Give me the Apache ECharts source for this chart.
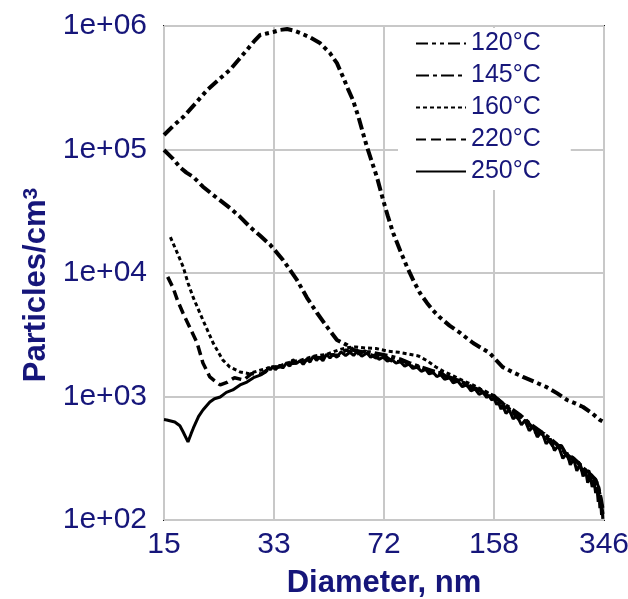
<!DOCTYPE html>
<html>
<head>
<meta charset="utf-8">
<script src="https://cdn.jsdelivr.net/npm/echarts@6/dist/echarts.min.js"></script>
<style>
  html, body { margin: 0; padding: 0; background: #fff; }
  #chart { width: 628px; height: 599px; }
</style>
</head>
<body>
<div id="chart"></div>
<script>
// Size distributions: [diameter nm, particles/cm3]
const seriesNames = ['120°C', '145°C', '160°C', '220°C', '250°C'];
const xTickLabels = ['15', '33', '72', '158', '346'];
const yTickLabels = ['1e+02', '1e+03', '1e+04', '1e+05', '1e+06'];

const curve120 = [
  [15.0, 131000], [16.0, 155000], [17.2, 183000], [18.6, 230000], [20.4, 303000],
  [22.2, 370000], [24.0, 441000], [25.5, 530000], [27.1, 640000], [28.5, 750000],
  [29.8, 846000], [31.2, 870000], [32.7, 894000], [34.4, 930000], [36.1, 945000],
  [37.8, 920000], [39.6, 878000], [42.5, 810000], [45.6, 728000], [49.0, 604000],
  [51.5, 500000], [53.8, 386000], [55.7, 310000], [57.7, 252000], [60.0, 185000],
  [62.0, 136000], [63.8, 105000], [66.0, 80000], [68.5, 59800], [71.6, 39000],
  [74.0, 29000], [76.9, 21100], [81.0, 15000], [84.9, 11200], [89.0, 8600],
  [93.1, 6890], [97.9, 5720], [102, 5000], [107, 4400], [115, 3750],
  [124, 3270], [136, 2710], [145, 2450], [153, 2250], [160, 1980],
  [168, 1730], [180, 1580], [194, 1440], [210, 1320], [230, 1190],
  [248, 1060], [266, 937], [282, 880], [298, 822], [318, 730],
  [336, 646], [346, 620]
];

const curve145 = [
  [15.0, 99000], [16.0, 84000], [16.8, 72000], [17.6, 65000], [18.5, 59800],
  [19.8, 50000], [21.3, 42800], [22.6, 38000], [24.0, 33600], [25.8, 28500],
  [27.7, 23600], [29.8, 20000], [32.0, 16900], [35.1, 12700], [38.7, 8800],
  [41.6, 6300], [44.7, 4740], [48.0, 3660], [51.5, 2870], [55.3, 2610],
  [58, 2380], [61, 2300], [65, 2280], [70, 2200], [75, 2120],
  [81, 2000], [87, 1850], [94, 1720], [101, 1620], [109, 1520],
  [118, 1390], [127, 1290], [137, 1170], [147, 1090], [158, 1000],
  [168, 880], [179, 790], [191, 700], [204, 600], [218, 530],
  [232, 470], [247, 410], [262, 350], [276, 320], [290, 285],
  [304, 250], [316, 230], [326, 210], [333, 180], [338, 150], [343, 120]
];

const curve160 = [
  [15.7, 19500], [16.5, 14500], [17.2, 11200], [17.8, 8300], [18.5, 6280],
  [19.8, 4160], [21.3, 2710], [22.8, 1980], [24.0, 1730], [25.8, 1580],
  [27.5, 1530], [29.5, 1620], [31.5, 1700], [34, 1760], [37, 1900],
  [40, 1980], [44, 2130], [48, 2200], [52, 2380], [55, 2480],
  [59, 2520], [63, 2470], [68, 2450], [74, 2330], [80, 2280],
  [86, 2200], [92, 2130], [98, 1950], [104, 1740], [110, 1600],
  [118, 1470], [126, 1350], [135, 1250], [144, 1140], [152, 1070],
  [158, 1010], [165, 920], [174, 820], [184, 720], [196, 640],
  [208, 560], [221, 500], [235, 440], [249, 390], [264, 345],
  [278, 310], [290, 280], [302, 250], [315, 230], [325, 215],
  [333, 185], [338, 150], [342, 125]
];

const curve220 = [
  [15.4, 9300], [16.0, 7600], [16.5, 6040], [17.2, 4700], [18.0, 3660],
  [19.0, 2710], [19.8, 1870], [20.8, 1440], [21.6, 1330], [22.4, 1240],
  [23.5, 1300], [24.8, 1420], [26.5, 1360], [28.0, 1530], [30.0, 1520],
  [32.0, 1700], [34.5, 1740], [37, 1850], [40, 1880], [43, 2080],
  [46, 2060], [49, 2180], [52, 2150], [55, 2380], [59, 2200],
  [63, 2330], [68, 2060], [72, 2150], [77, 1900], [83, 1940],
  [89, 1720], [95, 1740], [101, 1560], [108, 1560], [116, 1360],
  [124, 1350], [133, 1180], [142, 1160], [150, 1010], [158, 1020],
  [167, 840], [177, 790], [188, 660], [200, 630], [213, 510],
  [226, 500], [240, 400], [255, 400], [270, 310], [285, 315],
  [298, 240], [310, 250], [320, 195], [328, 205], [334, 150],
  [339, 135], [343, 112]
];

const curve250 = [
  [15.0, 650], [15.3, 646], [16.2, 622], [16.8, 580], [17.2, 516],
  [17.8, 429], [18.2, 500], [18.5, 556], [19.2, 690], [19.8, 778],
  [20.8, 902], [21.5, 960], [22.4, 991], [23.4, 1080], [24.5, 1130],
  [25.8, 1240], [27.1, 1310], [28.4, 1420], [29.8, 1490], [31.0, 1580],
  [31.6, 1720], [32.0, 1640], [32.6, 1760], [33.2, 1650], [34.3, 1800],
  [35.0, 1700], [36.0, 1880], [36.8, 1760], [37.6, 1990], [38.5, 1850],
  [39.6, 1950], [40.5, 1820], [41.6, 2010], [42.5, 1900], [43.5, 2120],
  [44.5, 1960], [45.5, 2080], [46.6, 1950], [47.8, 2200], [49.0, 2050],
  [50.1, 2200], [51.5, 2080], [53.0, 2300], [54.8, 2150], [56.5, 2280],
  [58.0, 2150], [59.5, 2320], [61.5, 2120], [63.8, 2250], [65.5, 2080],
  [67.5, 2180], [69.5, 2000], [71.6, 2080], [73.8, 1930], [76.0, 2000],
  [78.5, 1860], [80.8, 1920], [83.5, 1760], [86.0, 1830], [88.5, 1690],
  [91.2, 1730], [94.0, 1600], [97.0, 1660], [99.5, 1520], [102, 1580],
  [105, 1450], [108, 1500], [111, 1380], [115, 1420], [118, 1290],
  [122, 1330], [126, 1200], [130, 1240], [134, 1110], [138, 1150],
  [142, 1040], [146, 1080], [150, 980], [152, 1030], [155, 940],
  [158, 960], [161, 860], [163, 900], [166, 790], [168, 840],
  [172, 730], [176, 780], [181, 660], [186, 700], [192, 590],
  [197, 640], [203, 530], [209, 570], [215, 470], [222, 520],
  [229, 415], [236, 455], [243, 365], [250, 400], [258, 315],
  [266, 350], [272, 280], [279, 310], [285, 250], [292, 285],
  [298, 225], [303, 260], [308, 200], [313, 235], [318, 185],
  [322, 210], [326, 165], [329, 185], [332, 140], [334, 160],
  [336, 125], [338, 140], [340, 110], [342, 115], [343, 102]
];

const curves = [curve120, curve145, curve160, curve220, curve250];

// The diameter axis is logarithmic with equal steps between 15 and 346 nm;
// positions are expressed in steps (0..4) on a linear axis.
const D_MIN = 15, D_MAX = 346, STEPS = 4;
const toStep = d => Math.log(d / D_MIN) / Math.log(D_MAX / D_MIN) * STEPS;

const navy = '#16167a';
const font = '"Liberation Sans", Arial, sans-serif';

const lineStyles = [
  { width: 4, type: [12, 4, 4, 4, 4, 4] },
  { width: 4, type: [13, 4, 4, 4] },
  { width: 3, type: [4, 3] },
  { width: 3.5, type: [10, 5] },
  { width: 3, type: 'solid' }
];

const chart = echarts.init(document.getElementById('chart'), null, { renderer: 'canvas' });

chart.setOption({
  animation: false,
  backgroundColor: '#fff',
  textStyle: { fontFamily: font },
  grid: {
    left: 164, right: 24, top: 26, bottom: 79,
    containLabel: false,
    outerBoundsMode: 'none',
    show: true, borderColor: '#1a1a1a', borderWidth: 2, backgroundColor: 'transparent'
  },
  legend: {
    orient: 'vertical',
    left: 398, top: 28,
    padding: [3, 30, 6, 17],
    backgroundColor: '#fff',
    itemWidth: 50, itemHeight: 14, itemGap: 7,
    itemStyle: { color: 'rgba(0,0,0,0)', borderWidth: 0, opacity: 0 },
    data: seriesNames,
    textStyle: { color: navy, fontSize: 25, lineHeight: 25, fontFamily: font }
  },
  xAxis: {
    type: 'value',
    min: 0, max: STEPS, interval: 1,
    name: 'Diameter, nm',
    nameLocation: 'middle', nameGap: 48,
    nameTextStyle: { color: navy, fontSize: 31, fontWeight: 'bold', fontFamily: font },
    axisLine: { show: false },
    axisTick: { show: false },
    axisLabel: {
      color: navy, fontSize: 30, margin: 10, fontFamily: font,
      formatter: v => xTickLabels[Math.round(v)]
    },
    splitLine: { show: true, lineStyle: { color: '#c8c8c8', width: 2 } }
  },
  yAxis: {
    type: 'log', logBase: 10,
    min: 100, max: 1e6,
    name: 'Particles/cm{sup|3}',
    nameLocation: 'middle', nameGap: 112, nameRotate: 90,
    nameTextStyle: {
      color: navy, fontSize: 31, fontWeight: 'bold', fontFamily: font,
      padding: [0, 24, 0, 0],
      rich: { sup: { fontSize: 21, fontWeight: 'bold', color: navy, verticalAlign: 'top', padding: [0, 0, 10, 0] } }
    },
    axisLine: { show: false },
    axisTick: { show: false },
    axisLabel: {
      color: navy, fontSize: 30, margin: 17, fontFamily: font,
      formatter: v => yTickLabels[Math.round(Math.log10(v)) - 2]
    },
    splitLine: { show: true, lineStyle: { color: '#c8c8c8', width: 2 } }
  },
  series: seriesNames.map((name, i) => ({
    name,
    type: 'line',
    symbol: 'none',
    color: '#000',
    lineStyle: { color: '#000', width: lineStyles[i].width, type: lineStyles[i].type },
    data: curves[i].map(([d, v]) => [toStep(d), v])
  }))
});
</script>
</body>
</html>
